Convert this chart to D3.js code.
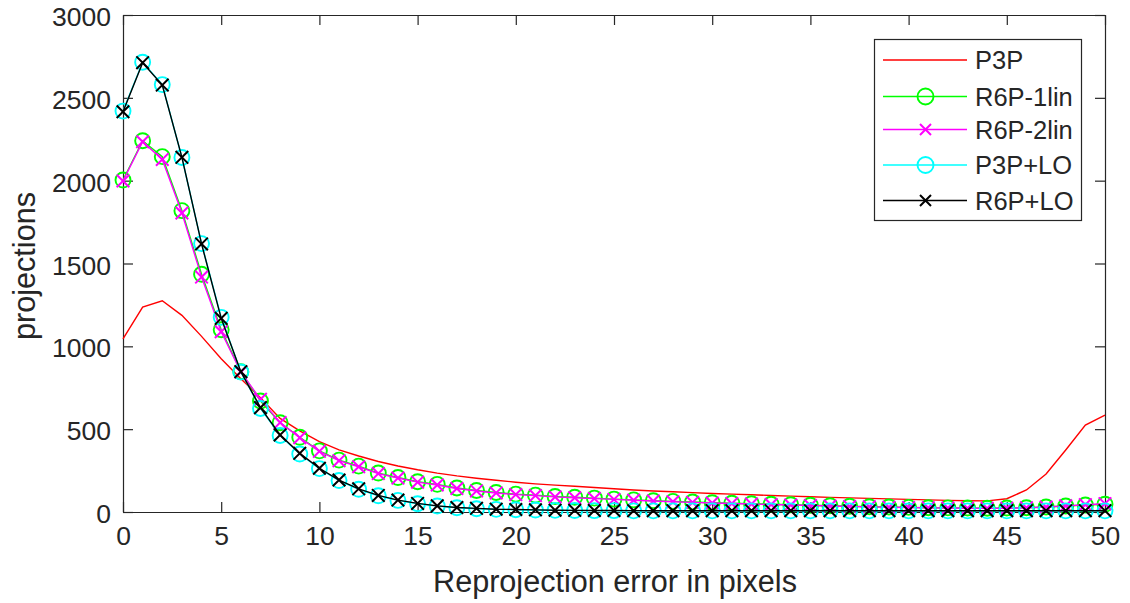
<!DOCTYPE html>
<html>
<head>
<meta charset="utf-8">
<script src="https://cdn.jsdelivr.net/npm/d3@7"></script>
<style>
  html, body { margin: 0; padding: 0; background: #fff; }
  svg { display: block; }
  text { font-family: "Liberation Sans", Arial, Helvetica, sans-serif; fill: #262626; }
</style>
</head>
<body>
<svg id="chart" width="1130" height="603"></svg>
<script>
// ---- data ----
const errors = d3.range(0, 51); // 0..50 pixels
const p3p = [1045,1237,1275,1187,1060,925,805,690,565,490,425,375,338,305,278,255,235,218,204,192,180,170,162,155,148,140,133,127,122,117,112,108,104,100,96,92,88,85,82,79,76,73,70,68,67,80,133,229,374,525,585];
const r6p1lin = [2004,2241,2145,1819,1435,1100,847,670,539,451,369,313,277,235,208,183,167,145,130,118,108,102,94,89,84,78,73,68,64,60,56,53,50,47,44,41,38,35,32,30,28,26,25,24,23,24,26,30,36,42,47];
const r6p2lin = [1998,2235,2128,1805,1418,1088,845,680,540,448,366,310,273,232,205,180,163,142,127,115,105,99,91,86,81,76,71,66,62,58,54,51,48,45,42,39,36,33,31,29,27,25,24,23,22,23,25,30,37,44,50];
const p3pLO = [2420,2715,2580,2140,1620,1175,845,625,462,350,262,190,137,98,70,50,36,26,20,16,14,12,10,9,8,8,7,7,7,7,7,7,7,7,7,7,7,7,7,7,7,7,7,7,7,7,7,7,7,7,7];
const r6pLO = [2416,2712,2577,2141,1618,1169,847,630,465,354,264,193,140,100,72,52,37,27,22,17,15,13,11,10,9,9,8,8,8,8,8,8,8,8,8,8,8,8,8,8,8,8,8,8,8,8,8,8,8,8,8];
const xTicks = [0,5,10,15,20,25,30,35,40,45,50];
const yTicks = [0,500,1000,1500,2000,2500,3000];
const seriesNames = ["P3P","R6P-1lin","R6P-2lin","P3P+LO","R6P+LO"];
const xLabel = "Reprojection error in pixels";
const yLabel = "projections";

// ---- layout ----
const svg = d3.select("#chart");
const L = 123, R = 1105, T = 15, B = 512;
const x = d3.scaleLinear().domain([0, 50]).range([L, R]);
const y = d3.scaleLinear().domain([0, 3000]).range([B, T]);
const axisColor = "#262626";

const series = [
  {name: seriesNames[0], data: p3p,     color: "#ff0000", marker: null},
  {name: seriesNames[1], data: r6p1lin, color: "#00ff00", marker: "circle"},
  {name: seriesNames[2], data: r6p2lin, color: "#ff00ff", marker: "x"},
  {name: seriesNames[3], data: p3pLO,   color: "#00ffff", marker: "circle"},
  {name: seriesNames[4], data: r6pLO,   color: "#000000", marker: "x"}
];

// ---- axes (MATLAB-like box with inward ticks) ----
const tickLen = 10;
const fontTick = 26.5;

const gxB = svg.append("g").attr("transform", `translate(0,${B})`)
  .call(d3.axisBottom(x).tickValues(xTicks).tickSizeInner(-tickLen).tickSizeOuter(0).tickPadding(14).tickFormat(d3.format("d")));
const gxT = svg.append("g").attr("transform", `translate(0,${T})`)
  .call(d3.axisTop(x).tickValues(xTicks).tickSizeInner(-tickLen).tickSizeOuter(0).tickFormat(""));
const gyL = svg.append("g").attr("transform", `translate(${L},0)`)
  .call(d3.axisLeft(y).tickValues(yTicks).tickSizeInner(-tickLen).tickSizeOuter(0).tickPadding(12).tickFormat(d3.format("d")));
const gyR = svg.append("g").attr("transform", `translate(${R},0)`)
  .call(d3.axisRight(y).tickValues(yTicks).tickSizeInner(-tickLen).tickSizeOuter(0).tickFormat(""));

[gxB, gxT, gyL, gyR].forEach(g => {
  g.selectAll(".domain").attr("stroke", axisColor).attr("stroke-width", 1.2);
  g.selectAll(".tick line").attr("stroke", axisColor).attr("stroke-width", 1.2);
  g.selectAll(".tick text").attr("fill", axisColor).style("font-size", fontTick + "px")
   .style("font-family", '"Liberation Sans", Arial, sans-serif');
});
gxB.selectAll(".tick text").attr("dy", "0.71em");
gyL.selectAll(".tick text").attr("dy", "0.4em");

// ---- data lines & markers ----
const line = d3.line().x((d, i) => x(errors[i])).y(d => y(d));
function drawMarker(g, type, cx, cy, color, r) {
  if (type === "circle") {
    g.append("circle").attr("cx", cx).attr("cy", cy).attr("r", r)
      .attr("fill", "none").attr("stroke", color).attr("stroke-width", 1.9);
  } else if (type === "x") {
    const s = r;
    g.append("path").attr("d", `M${cx-s},${cy-s}L${cx+s},${cy+s}M${cx-s},${cy+s}L${cx+s},${cy-s}`)
      .attr("stroke", color).attr("stroke-width", 2).attr("fill", "none");
  }
}

const plot = svg.append("g");
series.forEach(s => {
  const g = plot.append("g");
  g.append("path").datum(s.data).attr("d", line)
    .attr("fill", "none").attr("stroke", s.color).attr("stroke-width", 1.4);
  if (s.marker) {
    const r = s.marker === "circle" ? 7.5 : 6.3;
    s.data.forEach((v, i) => drawMarker(g, s.marker, x(errors[i]), y(v), s.color, r));
  }
});

// ---- axis labels ----
svg.append("text").attr("x", (L + R) / 2 + 1).attr("y", 592).attr("text-anchor", "middle")
  .style("font-size", "30.6px").attr("fill", axisColor).text(xLabel);
svg.append("text").attr("transform", "translate(35,266) rotate(-90)").attr("text-anchor", "middle")
  .style("font-size", "30.6px").attr("fill", axisColor).text(yLabel);

// ---- legend ----
const lg = svg.append("g");
lg.append("rect").attr("x", 874.5).attr("y", 39.5).attr("width", 207).attr("height", 181)
  .attr("fill", "#fff").attr("stroke", axisColor).attr("stroke-width", 1.2);
const legY = [60, 96.5, 129.5, 165, 200.5];
series.forEach((s, i) => {
  const yy = legY[i];
  lg.append("line").attr("x1", 883).attr("x2", 967).attr("y1", yy).attr("y2", yy)
    .attr("stroke", s.color).attr("stroke-width", 1.4);
  if (s.marker) drawMarker(lg, s.marker, 925.5, yy, s.color, s.marker === "circle" ? 8 : 5.5);
  lg.append("text").attr("x", 975).attr("y", yy).attr("dy", "0.36em")
    .style("font-size", "25.5px").attr("fill", "#000").text(s.name);
});
</script>
</body>
</html>
